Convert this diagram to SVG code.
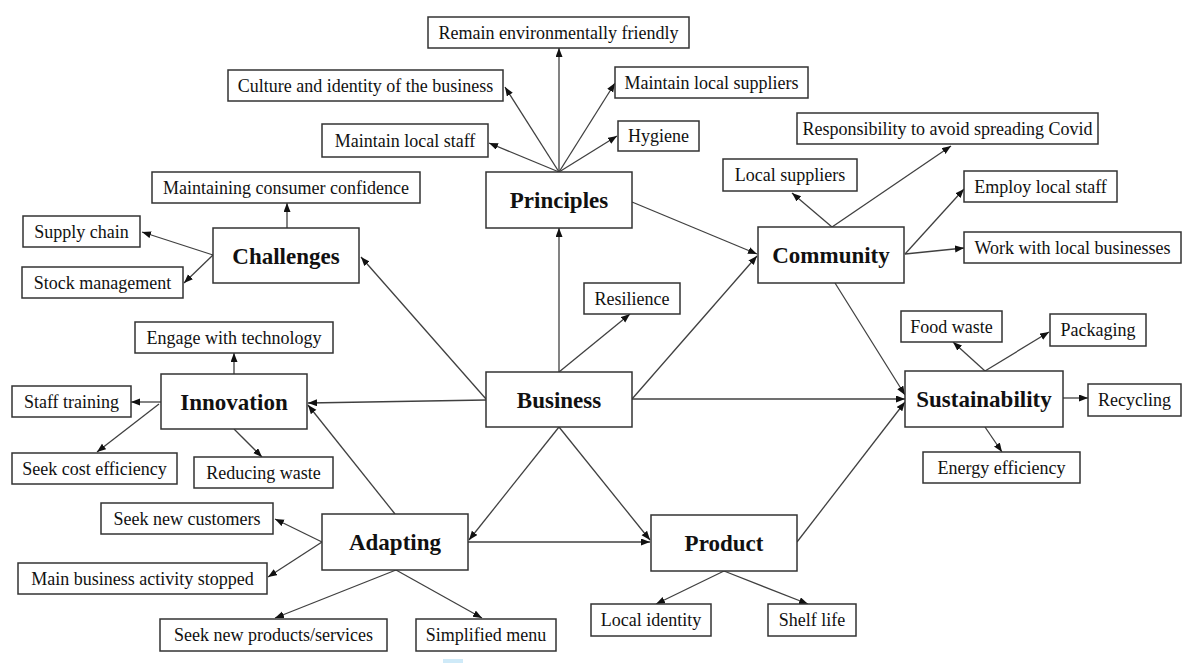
<svg xmlns="http://www.w3.org/2000/svg" width="1192" height="663" viewBox="0 0 1192 663">
<style>
.box{fill:#fff;stroke:#333;stroke-width:1.5}
.t{font-family:"Liberation Serif","Times New Roman",serif;font-size:18px;fill:#111;text-anchor:middle}
.h{font-family:"Liberation Serif","Times New Roman",serif;font-size:23px;font-weight:bold;fill:#111;text-anchor:middle}
.c line{stroke:#404040;stroke-width:1.3;marker-end:url(#ah)}
</style>
<defs>
<marker id="ah" markerUnits="userSpaceOnUse" markerWidth="10" markerHeight="8" refX="9" refY="3.5" orient="auto">
<path d="M0,0 L9,3.5 L0,7 z" fill="#111"/>
</marker>
</defs>
<rect width="1192" height="663" fill="#fff"/>
<g class="c" id="connectors">
<line x1="559" y1="172" x2="559" y2="48"/>
<line x1="559" y1="172" x2="505" y2="87"/>
<line x1="559" y1="172" x2="489" y2="143"/>
<line x1="559" y1="172" x2="615" y2="83"/>
<line x1="559" y1="172" x2="617" y2="136"/>
<line x1="559" y1="372" x2="559" y2="228"/>
<line x1="559" y1="372" x2="630" y2="314"/>
<line x1="632" y1="202" x2="757" y2="254"/>
<line x1="632" y1="399" x2="757" y2="256"/>
<line x1="832" y1="227" x2="792" y2="193"/>
<line x1="832" y1="227" x2="951" y2="146"/>
<line x1="905" y1="254" x2="964" y2="189"/>
<line x1="905" y1="254" x2="964" y2="248"/>
<line x1="835" y1="283" x2="905" y2="395"/>
<line x1="632" y1="399" x2="905" y2="399"/>
<line x1="797" y1="542" x2="905" y2="402"/>
<line x1="985" y1="371" x2="953" y2="342"/>
<line x1="985" y1="371" x2="1049" y2="332"/>
<line x1="1063" y1="398" x2="1088" y2="398"/>
<line x1="985" y1="427" x2="1002" y2="452"/>
<line x1="486" y1="399" x2="361" y2="257"/>
<line x1="287" y1="228" x2="287" y2="203"/>
<line x1="213" y1="255" x2="142" y2="232"/>
<line x1="213" y1="255" x2="184" y2="283"/>
<line x1="486" y1="400" x2="308" y2="403"/>
<line x1="234" y1="374" x2="234" y2="353"/>
<line x1="161" y1="402" x2="131" y2="402"/>
<line x1="159" y1="404" x2="97" y2="452"/>
<line x1="234" y1="429" x2="262" y2="457"/>
<line x1="395" y1="514" x2="308" y2="405"/>
<line x1="559" y1="427" x2="469" y2="540"/>
<line x1="559" y1="427" x2="650" y2="540"/>
<line x1="468" y1="542" x2="650" y2="542"/>
<line x1="322" y1="542" x2="275" y2="519"/>
<line x1="322" y1="542" x2="268" y2="577"/>
<line x1="396" y1="570" x2="275" y2="618"/>
<line x1="396" y1="570" x2="482" y2="618"/>
<line x1="724" y1="571" x2="656" y2="604"/>
<line x1="724" y1="571" x2="808" y2="604"/>
</g>
<g id="principles"><rect class="box" x="486" y="172" width="146" height="56"/><text class="h" x="559" y="208">Principles</text></g>
<g id="challenges"><rect class="box" x="213" y="228" width="146" height="55"/><text class="h" x="286" y="263.5">Challenges</text></g>
<g id="community"><rect class="box" x="758" y="227" width="146" height="56"/><text class="h" x="831" y="263">Community</text></g>
<g id="innovation"><rect class="box" x="161" y="374" width="146" height="55"/><text class="h" x="234" y="409.5">Innovation</text></g>
<g id="business"><rect class="box" x="486" y="372" width="146" height="55"/><text class="h" x="559" y="407.5">Business</text></g>
<g id="sustainability"><rect class="box" x="905" y="371" width="158" height="56"/><text class="h" x="984" y="407">Sustainability</text></g>
<g id="adapting"><rect class="box" x="322" y="514" width="146" height="56"/><text class="h" x="395" y="550">Adapting</text></g>
<g id="product"><rect class="box" x="651" y="515" width="146" height="56"/><text class="h" x="724" y="551">Product</text></g>
<g id="remain"><rect class="box" x="428" y="17" width="261" height="31"/><text class="t" x="558.5" y="38.5">Remain environmentally friendly</text></g>
<g id="culture"><rect class="box" x="228" y="70" width="275" height="31"/><text class="t" x="365.5" y="91.5">Culture and identity of the business</text></g>
<g id="maintain-suppliers"><rect class="box" x="615" y="67" width="193" height="31"/><text class="t" x="711.5" y="88.5">Maintain local suppliers</text></g>
<g id="maintain-staff"><rect class="box" x="322" y="124" width="166" height="33"/><text class="t" x="405" y="146.5">Maintain local staff</text></g>
<g id="hygiene"><rect class="box" x="618" y="121" width="81" height="30"/><text class="t" x="658.5" y="142">Hygiene</text></g>
<g id="consumer-confidence"><rect class="box" x="152" y="172" width="268" height="31"/><text class="t" x="286" y="193.5">Maintaining consumer confidence</text></g>
<g id="supply-chain"><rect class="box" x="23" y="216" width="117" height="31"/><text class="t" x="81.5" y="237.5">Supply chain</text></g>
<g id="stock"><rect class="box" x="22" y="267" width="161" height="31"/><text class="t" x="102.5" y="288.5">Stock management</text></g>
<g id="covid"><rect class="box" x="797" y="113" width="301" height="31"/><text class="t" x="947.5" y="134.5">Responsibility to avoid spreading Covid</text></g>
<g id="local-suppliers"><rect class="box" x="723" y="159" width="134" height="32"/><text class="t" x="790" y="181">Local suppliers</text></g>
<g id="employ"><rect class="box" x="964" y="171" width="153" height="31"/><text class="t" x="1040.5" y="192.5">Employ local staff</text></g>
<g id="work-local"><rect class="box" x="964" y="232" width="217" height="31"/><text class="t" x="1072.5" y="253.5">Work with local businesses</text></g>
<g id="resilience"><rect class="box" x="584" y="283" width="96" height="31"/><text class="t" x="632" y="304.5">Resilience</text></g>
<g id="technology"><rect class="box" x="135" y="322" width="198" height="31"/><text class="t" x="234" y="343.5">Engage with technology</text></g>
<g id="staff-training"><rect class="box" x="12" y="386" width="119" height="31"/><text class="t" x="71.5" y="407.5">Staff training</text></g>
<g id="cost-efficiency"><rect class="box" x="12" y="453" width="165" height="31"/><text class="t" x="94.5" y="474.5">Seek cost efficiency</text></g>
<g id="reducing-waste"><rect class="box" x="194" y="457" width="139" height="31"/><text class="t" x="263.5" y="478.5">Reducing waste</text></g>
<g id="food-waste"><rect class="box" x="901" y="311" width="101" height="31"/><text class="t" x="951.5" y="332.5">Food waste</text></g>
<g id="packaging"><rect class="box" x="1050" y="314" width="96" height="32"/><text class="t" x="1098" y="336">Packaging</text></g>
<g id="recycling"><rect class="box" x="1088" y="384" width="93" height="32"/><text class="t" x="1134.5" y="406">Recycling</text></g>
<g id="energy"><rect class="box" x="923" y="452" width="157" height="31"/><text class="t" x="1001.5" y="473.5">Energy efficiency</text></g>
<g id="new-customers"><rect class="box" x="101" y="503" width="172" height="31"/><text class="t" x="187" y="524.5">Seek new customers</text></g>
<g id="stopped"><rect class="box" x="18" y="563" width="249" height="31"/><text class="t" x="142.5" y="584.5">Main business activity stopped</text></g>
<g id="new-products"><rect class="box" x="160" y="619" width="227" height="32"/><text class="t" x="273.5" y="641">Seek new products/services</text></g>
<g id="simplified-menu"><rect class="box" x="416" y="619" width="140" height="32"/><text class="t" x="486" y="641">Simplified menu</text></g>
<g id="local-identity"><rect class="box" x="591" y="604" width="120" height="32"/><text class="t" x="651" y="626">Local identity</text></g>
<g id="shelf-life"><rect class="box" x="768" y="604" width="88" height="32"/><text class="t" x="812" y="626">Shelf life</text></g>
<rect x="443" y="659" width="20" height="4" fill="#cfeaf8"/>
</svg>
